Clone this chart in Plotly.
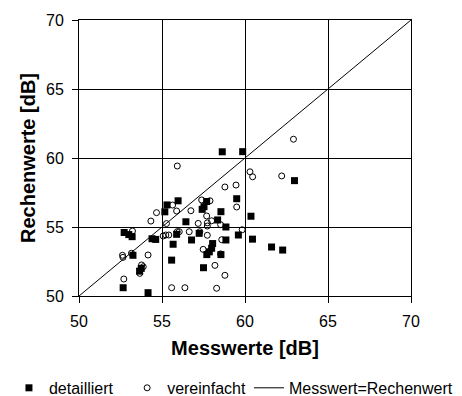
import plotly.graph_objects as go

# detailliert (filled squares)
det_x = [52.66, 52.72, 53.0, 53.2, 53.25, 53.65, 53.75, 54.16, 54.4, 54.62,
         55.3, 55.17, 55.97, 55.58, 55.67, 55.88, 56.44, 56.78, 57.24,
         57.42, 57.53, 57.69, 58.55, 58.35, 58.85, 58.85, 58.05, 57.99,
         57.7, 57.85, 58.55, 57.5, 59.5, 60.36, 59.6, 60.45, 61.6, 62.27,
         58.63, 59.86, 62.98]
det_y = [50.6, 54.6, 54.45, 54.3, 52.95, 51.8, 52.0, 50.24, 54.15, 54.1,
         56.6, 56.1, 56.9, 52.6, 53.75, 54.47, 55.38, 54.06, 54.54,
         56.28, 56.47, 56.85, 56.11, 55.51, 55.0, 54.06, 53.8, 53.46,
         53.0, 53.2, 53.0, 52.05, 57.05, 55.78, 54.42, 54.12, 53.55, 53.33,
         60.45, 60.46, 58.36]

# vereinfacht (open circles)
ver_x = [52.7, 52.62, 52.65, 53.16, 53.22, 53.77, 53.87, 53.66, 54.16, 54.33,
         54.67, 55.07, 55.23, 55.41, 55.27, 55.64, 55.88, 55.92, 55.92, 55.58,
         56.38, 56.04, 56.64, 56.74, 57.18, 57.28, 57.39, 57.89, 57.69, 57.99,
         57.73, 57.73, 57.73, 57.48, 58.53, 58.6, 58.53, 58.19, 58.79, 58.29,
         58.79, 59.46, 59.5, 59.83, 60.3, 60.46, 62.21, 62.92]
ver_y = [51.23, 52.95, 52.8, 53.1, 54.71, 52.25, 52.12, 51.64, 52.97, 55.43,
         56.04, 54.35, 54.42, 54.42, 55.25, 56.59, 56.16, 54.66, 59.42, 50.6,
         50.6, 54.66, 54.66, 56.18, 55.26, 54.66, 56.96, 56.9, 55.8, 55.45,
         55.3, 55.07, 54.4, 53.38, 55.17, 54.08, 53.05, 52.22, 51.5, 50.56,
         57.9, 58.04, 56.45, 54.8, 59.0, 58.64, 58.7, 61.36]

line_x = [50, 70]
line_y = [50, 70]

ticks = [50, 55, 60, 65, 70]

font = "Liberation Sans, Arial, sans-serif"

fig = go.Figure()
fig.add_trace(go.Scatter(x=det_x, y=det_y, mode="markers", name="detailliert",
                         legend="legend",
                         marker=dict(symbol="square", size=7, color="black",
                                     line=dict(width=0))))
fig.add_trace(go.Scatter(x=ver_x, y=ver_y, mode="markers", name="vereinfacht",
                         legend="legend2",
                         marker=dict(symbol="circle-open", size=6, color="black",
                                     line=dict(width=1, color="black"))))
fig.add_trace(go.Scatter(x=line_x, y=line_y, mode="lines", name="Messwert=Rechenwert",
                         legend="legend3",
                         line=dict(color="black", width=1)))

axis_common = dict(range=[50, 70], tickvals=ticks, ticktext=[str(t) for t in ticks],
                   showgrid=True, gridcolor="black", gridwidth=1,
                   showline=True, linecolor="black", linewidth=1, mirror=True,
                   ticks="outside", ticklen=6, tickcolor="black", tickwidth=1,
                   ticklabelstandoff=5,
                   zeroline=False, automargin=False,
                   tickfont=dict(family=font, size=16, color="black"))

leg_common = dict(orientation="h", xanchor="left", y=-0.333, yanchor="middle",
                  font=dict(family=font, size=16, color="black"),
                  itemwidth=30, bgcolor="rgba(0,0,0,0)")

fig.update_layout(
    width=454, height=388,
    margin=dict(l=71, r=51, t=12, b=100, autoexpand=False),
    paper_bgcolor="white", plot_bgcolor="white",
    font=dict(family=font, color="black"),
    xaxis=dict(axis_common, title=dict(text="<b>Messwerte [dB]</b>",
                                        font=dict(family=font, size=20), standoff=11)),
    yaxis=dict(axis_common, title=dict(text="<b>Rechenwerte [dB]</b>",
                                        font=dict(family=font, size=20), standoff=5)),
    showlegend=True,
    legend=dict(leg_common, x=-0.211),
    legend2=dict(leg_common, x=0.145),
    legend3=dict(leg_common, x=0.512),
)

fig.write_html("out.html")
